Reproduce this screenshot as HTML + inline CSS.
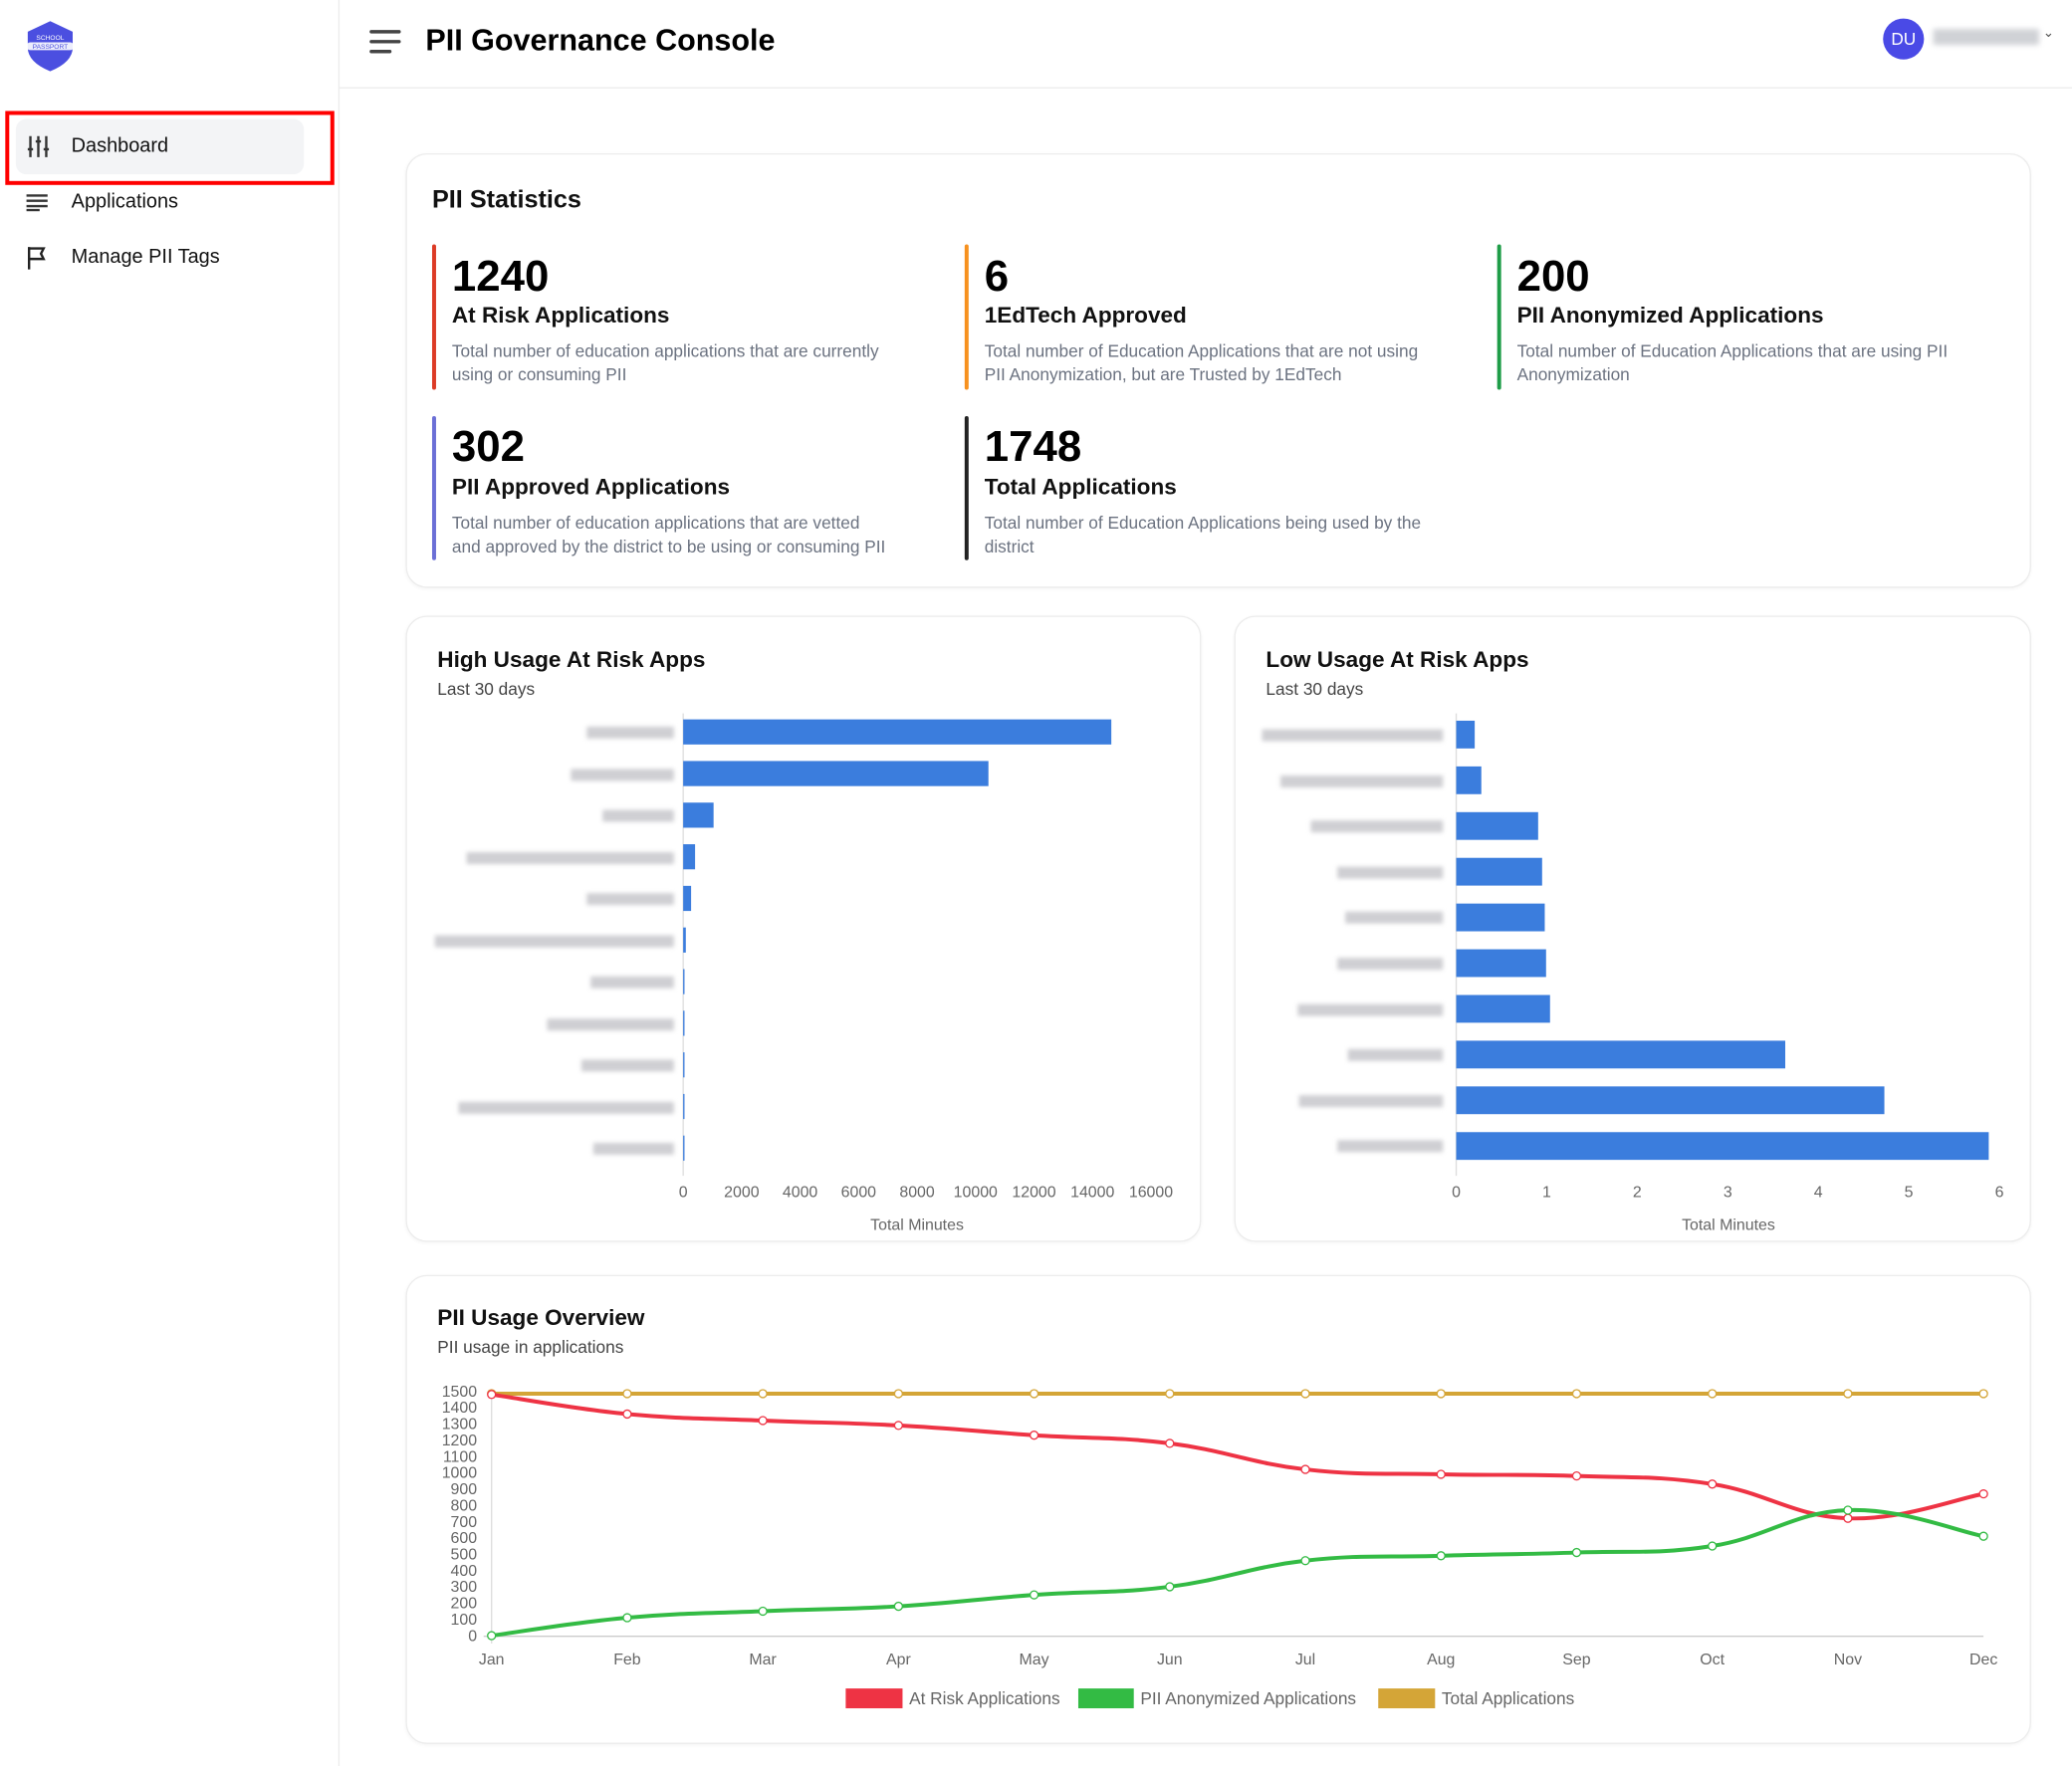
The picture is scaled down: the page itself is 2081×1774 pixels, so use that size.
<!DOCTYPE html>
<html><head><meta charset="utf-8">
<style>
html,body{margin:0;padding:0;background:#fff;overflow:hidden}
body{width:2081px;height:1774px;font-family:"Liberation Sans",sans-serif;color:#111}
#w{position:absolute;left:0;top:0;width:1568px;height:1337px;transform:scale(1.32717);transform-origin:0 0}
.a{position:absolute;white-space:nowrap}
.card{position:absolute;border:1px solid #ececec;border-radius:16px;background:#fff;box-shadow:0 1px 3px rgba(0,0,0,0.04)}
.bar{position:absolute;width:3px;border-radius:2px}
.num{font-size:33px;font-weight:bold;color:#000}
.tt{font-size:17px;font-weight:bold;color:#111}
.ds{font-size:13px;color:#6b7280;line-height:18px}
.blur{position:absolute;height:9px;background:#cfcfd3;filter:blur(1.6px)}
</style></head><body><div id="w">
<!-- sidebar -->
<div class="a" style="left:256px;top:0;width:1px;height:1337px;background:#ececec"></div>
<svg class="a" style="left:17px;top:14px" width="42" height="42" viewBox="0 0 42 42"><path d="M21 2 L38 10 L38 22 Q38 33 21 40 Q4 33 4 22 L4 10 Z" fill="#4b4fe0"/><rect x="3" y="18" width="36" height="6" rx="3" fill="#fff" opacity=".9"/><text x="21" y="16" font-size="5" fill="#fff" text-anchor="middle" font-family="Liberation Sans">SCHOOL</text><text x="21" y="23" font-size="5" fill="#4b4fe0" text-anchor="middle" font-family="Liberation Sans">PASSPORT</text></svg>
<div class="a" style="left:4px;top:84px;width:243px;height:50px;border:3px solid #f00"></div>
<div class="a" style="left:12px;top:90px;width:218px;height:42px;background:#f3f4f6;border-radius:8px"></div>
<svg class="a" style="left:20px;top:102px" width="18" height="18" viewBox="0 0 18 18" stroke="#333" stroke-width="1.8" fill="none"><path d="M3 1v16M9 1v16M15 1v16M1 11h4M7 5h4M13 11h4"/></svg>
<div class="a" style="left:54px;top:102px;font-size:15px">Dashboard</div>
<svg class="a" style="left:20px;top:146px" width="17" height="14" stroke="#333" stroke-width="1.8"><path d="M0 2h16M0 6h16M0 10h16M0 13h10"/></svg>
<div class="a" style="left:54px;top:144px;font-size:15px">Applications</div>
<svg class="a" style="left:20px;top:186px" width="16" height="18" stroke="#222" stroke-width="1.8" fill="none"><path d="M2 1v17M2 2h11l-2 4 2 4H2"/></svg>
<div class="a" style="left:54px;top:186px;font-size:15px">Manage PII Tags</div>
<!-- header -->
<div class="a" style="left:257px;top:66px;width:1311px;height:1px;background:#ececec"></div>
<svg class="a" style="left:279px;top:22px" width="25" height="19" stroke="#444" stroke-width="2.6" stroke-linecap="round"><path d="M2 2h21M2 9.5h21M2 17h14"/></svg>
<div class="a" style="left:322px;top:17px;font-size:23px;font-weight:bold;color:#000">PII Governance Console</div>
<div class="a" style="left:1425px;top:14px;width:31px;height:31px;border-radius:50%;background:#4a4ae6;color:#fff;font-size:13px;text-align:center;line-height:31px">DU</div>
<div class="a" style="left:1463px;top:22px;width:80px;height:12px;background:#d0d2d6;filter:blur(2px)"></div>
<div class="a" style="left:1546px;top:20px;font-size:10px;color:#555">&#8964;</div>
<!-- stats -->
<div class="card" style="left:307px;top:116px;width:1228px;height:327px"></div>
<div class="a" style="left:327px;top:141px;font-size:19px;font-weight:bold">PII Statistics</div>
<div class="bar" style="left:327px;top:185px;height:110px;background:#dc3b26"></div>
<div class="a num" style="left:342px;top:190px">1240</div>
<div class="a tt" style="left:342px;top:229px">At Risk Applications</div>
<div class="a ds" style="left:342px;top:257px">Total number of education applications that are currently<br>using or consuming PII</div>
<div class="bar" style="left:730px;top:185px;height:110px;background:#f7911e"></div>
<div class="a num" style="left:745px;top:190px">6</div>
<div class="a tt" style="left:745px;top:229px">1EdTech Approved</div>
<div class="a ds" style="left:745px;top:257px">Total number of Education Applications that are not using<br>PII Anonymization, but are Trusted by 1EdTech</div>
<div class="bar" style="left:1133px;top:185px;height:110px;background:#1f9d48"></div>
<div class="a num" style="left:1148px;top:190px">200</div>
<div class="a tt" style="left:1148px;top:229px">PII Anonymized Applications</div>
<div class="a ds" style="left:1148px;top:257px">Total number of Education Applications that are using PII<br>Anonymization</div>
<div class="bar" style="left:327px;top:315px;height:109px;background:#6b6fd6"></div>
<div class="a num" style="left:342px;top:319px">302</div>
<div class="a tt" style="left:342px;top:359px">PII Approved Applications</div>
<div class="a ds" style="left:342px;top:387px">Total number of education applications that are vetted<br>and approved by the district to be using or consuming PII</div>
<div class="bar" style="left:730px;top:315px;height:109px;background:#222"></div>
<div class="a num" style="left:745px;top:319px">1748</div>
<div class="a tt" style="left:745px;top:359px">Total Applications</div>
<div class="a ds" style="left:745px;top:387px">Total number of Education Applications being used by the<br>district</div>
<!-- chart cards -->
<div class="card" style="left:307px;top:466px;width:600px;height:472px"></div>
<div class="card" style="left:934px;top:466px;width:601px;height:472px"></div>
<div class="card" style="left:307px;top:965px;width:1228px;height:353px"></div>
<div class="a" style="left:331px;top:490px;font-size:17px;font-weight:bold">High Usage At Risk Apps</div>
<div class="a" style="left:331px;top:514px;font-size:13px;color:#444">Last 30 days</div>
<div class="a" style="left:958px;top:490px;font-size:17px;font-weight:bold">Low Usage At Risk Apps</div>
<div class="a" style="left:958px;top:514px;font-size:13px;color:#444">Last 30 days</div>
<div class="a" style="left:331px;top:988px;font-size:17px;font-weight:bold">PII Usage Overview</div>
<div class="a" style="left:331px;top:1012px;font-size:13px;color:#444">PII usage in applications</div>
<div id="blurs"></div>
<svg id="s" class="a" style="left:0;top:0" width="1568" height="1337" font-family="Liberation Sans"></svg>
</div>
<script>
var s=document.getElementById('s'),h='';
function T(x,y,t,a,sz,c){h+='<text x="'+x+'" y="'+y+'" font-size="'+(sz||12)+'" fill="'+(c||'#666')+'" text-anchor="'+(a||'middle')+'">'+t+'</text>';}
var B='#3b7ddd',bl='';
// chart1
h+='<line x1="517" y1="540" x2="517" y2="890" stroke="#ddd"/>';
var e1=[841,748,540,526,523,519,518,518,518,518,518],l1=[444,432,456,353,444,329,447,414,440,347,449];
for(var i=0;i<11;i++){var cy=554+i*31.5;h+='<rect x="517" y="'+(cy-9.5)+'" width="'+(e1[i]-517)+'" height="19" fill="'+B+'"/>';bl+='<div class="blur" style="left:'+l1[i]+'px;top:'+(cy-4)+'px;width:'+(510-l1[i])+'px"></div>';}
var tk=['0','2000','4000','6000','8000','10000','12000','14000','16000'];
for(i=0;i<9;i++)T(517+i*44.25,906,tk[i]);
T(694,931,'Total Minutes','middle',12);
// chart2
h+='<line x1="1102" y1="540" x2="1102" y2="890" stroke="#ddd"/>';
var e2=[1116,1121,1164,1167,1169,1170,1173,1351,1426,1505],l2=[955,969,992,1012,1018,1012,982,1020,983,1012];
for(i=0;i<10;i++){var cy=556+i*34.6;h+='<rect x="1102" y="'+(cy-10.5)+'" width="'+(e2[i]-1102)+'" height="21" fill="'+B+'"/>';bl+='<div class="blur" style="left:'+l2[i]+'px;top:'+(cy-4)+'px;width:'+(1092-l2[i])+'px"></div>';}
for(i=0;i<7;i++)T(1102+i*68.5,906,i);
T(1308,931,'Total Minutes','middle',12);
document.getElementById('blurs').innerHTML=bl;
// line chart
function Y(v){return 1238-v*185/1500;}
h+='<line x1="372" y1="1053" x2="372" y2="1244" stroke="#ddd"/><line x1="366" y1="1238.5" x2="1501" y2="1238.5" stroke="#ccc"/>';
for(var v=0;v<=1500;v+=100)T(361,Y(v)+4,v,'end',12);
var m=['Jan','Feb','Mar','Apr','May','Jun','Jul','Aug','Sep','Oct','Nov','Dec'];
for(i=0;i<12;i++)T(372+i*102.64,1260,m[i],'middle',12);
function path(d,c){var p=d.map(function(v,i){return [372+i*102.64,Y(v)];}),str='M'+p[0][0]+' '+p[0][1],t=0.4;
for(var i=0;i<p.length-1;i++){var p0=p[i-1]||p[i],p1=p[i],p2=p[i+1],p3=p[i+2]||p2;
str+=' C'+(p1[0]+(p2[0]-p0[0])*t/2)+' '+(p1[1]+(p2[1]-p0[1])*t/2)+' '+(p2[0]-(p3[0]-p1[0])*t/2)+' '+(p2[1]-(p3[1]-p1[1])*t/2)+' '+p2[0]+' '+p2[1];}
h+='<path d="'+str+'" fill="none" stroke="'+c+'" stroke-width="3"/>';
p.forEach(function(q){h+='<circle cx="'+q[0]+'" cy="'+q[1]+'" r="3" fill="#fff" stroke="'+c+'" stroke-width="1"/>';});}
var tot=[];for(i=0;i<12;i++)tot.push(1485);
path(tot,'#d4a537');
path([1480,1360,1320,1290,1230,1180,1020,990,980,930,720,870],'#ee3344');
path([0,110,150,180,250,300,460,490,510,550,770,610],'#33bb44');
h+='<rect x="640" y="1278" width="43" height="15" fill="#ee3344"/><rect x="816" y="1278" width="42" height="15" fill="#33bb44"/><rect x="1043" y="1278" width="43" height="15" fill="#d4a537"/>';
T(688,1290,'At Risk Applications','start',13);T(863,1290,'PII Anonymized Applications','start',13);T(1091,1290,'Total Applications','start',13);
s.innerHTML=h;
</script>
</body></html>
